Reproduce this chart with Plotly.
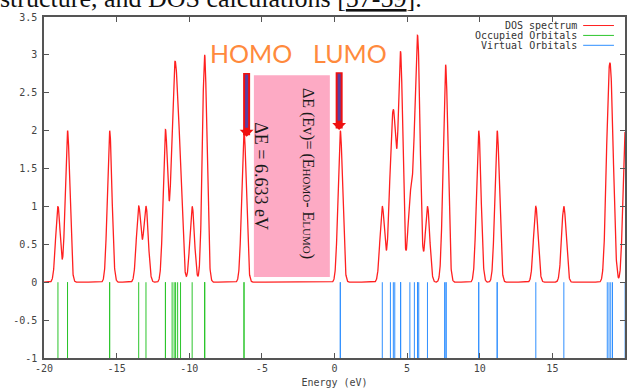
import numpy as np
import plotly.graph_objects as go

# ---------------- data ----------------
# orbital energies in eV; repeated values = degenerate orbitals
occupied_energies = [-19.04, -18.38, -18.38, -15.48, -15.48, -13.48, -12.98,
                     -11.64, -11.64, -11.18, -11.04, -10.94, -10.80, -10.60,
                     -9.80, -8.94, -8.94, -8.94, -6.23, -6.23]
virtual_energies = [0.40, 0.40, 3.29, 3.85, 4.05, 4.15, 4.55, 4.55, 4.55,
                    5.19, 5.50, 5.72, 5.72, 5.80, 6.40, 7.58, 7.68, 7.68,
                    9.93, 9.93, 11.20, 11.20, 13.86, 15.79,
                    18.78, 18.90, 19.02, 19.14, 20.02, 20.02]
fwhm = 0.37  # Gaussian broadening of the DOS spectrum (eV)

x_tickvals = [-20, -15, -10, -5, 0, 5, 10, 15, 20]
x_ticktext = ["-20", "-15", "-10", "-5", "0", "5", "10", "15", "20"]
y_tickvals = [-1, -0.5, 0, 0.5, 1, 1.5, 2, 2.5, 3, 3.5]
y_ticktext = ["-1", "-0.5", "0", "0.5", "1", "1.5", "2", "2.5", "3", "3.5"]

legend_labels = ["DOS spectrum", "Occupied Orbitals", "Virtual Orbitals"]
homo_label = "HOMO"
lumo_label = "LUMO"
gap_text = "ΔE = 6.633 eV"
formula_text = ("ΔE (Ev)= (E<span style='font-size:11px'>HOMO</span>- "
                "E<span style='font-size:11px'>LUMO</span>)")
caption_text = "structure, and DOS calculations [<u>57-59</u>]."

# ---------------- DOS spectrum from the orbitals ----------------
sigma = fwhm / 2.3548
energy_grid = np.linspace(-20, 20, 4001)
all_orbitals = np.array(occupied_energies + virtual_energies)
dos = np.exp(-(energy_grid[:, None] - all_orbitals[None, :]) ** 2 / (2 * sigma ** 2)).sum(axis=1)


def sticks(energies):
    xs, ys = [], []
    for e in energies:
        xs += [e, e, None]
        ys += [0, -1, None]
    return xs, ys


RED = "#ff2020"
GREEN = "#2cc52c"
BLUE = "#2f8fff"

fig = go.Figure()
fig.add_trace(go.Scatter(x=energy_grid, y=dos, mode="lines",
                         line=dict(color=RED, width=1.3), name=legend_labels[0],
                         showlegend=False))
ox, oy = sticks(occupied_energies)
fig.add_trace(go.Scatter(x=ox, y=oy, mode="lines", line=dict(color=GREEN, width=1),
                         name=legend_labels[1], showlegend=False))
vx, vy = sticks(virtual_energies)
fig.add_trace(go.Scatter(x=vx, y=vy, mode="lines", line=dict(color=BLUE, width=1),
                         name=legend_labels[2], showlegend=False))

MONO = "DejaVu Sans Mono"
AXIS_COLOR = "#555555"

fig.update_layout(
    width=627, height=388,
    margin=dict(l=44, r=2, t=17, b=30, autoexpand=False),
    paper_bgcolor="white", plot_bgcolor="white",
    showlegend=False,
    font=dict(family=MONO, size=10, color="#444444"),
)
fig.update_xaxes(range=[-20, 20], tickvals=x_tickvals, ticktext=x_ticktext,
                 ticks="inside", ticklen=5, tickcolor=AXIS_COLOR, tickwidth=1,
                 showline=True, linecolor=AXIS_COLOR, linewidth=1.5, mirror="ticks",
                 showgrid=False, zeroline=False, automargin=False,
                 tickfont=dict(family=MONO, size=10, color="#444444"),
                 title=dict(text="Energy (eV)", standoff=7,
                            font=dict(family=MONO, size=10, color="#444444")))
fig.update_yaxes(range=[-1, 3.5], tickvals=y_tickvals, ticktext=y_ticktext,
                 ticks="inside", ticklen=5, tickcolor=AXIS_COLOR, tickwidth=1,
                 showline=True, linecolor=AXIS_COLOR, linewidth=1.5, mirror="ticks",
                 showgrid=False, zeroline=False, ticklabelstandoff=3, automargin=False,
                 tickfont=dict(family=MONO, size=10, color="#444444"))

# pink box
fig.add_shape(type="rect", xref="x", yref="y", x0=-5.55, x1=-0.32, y0=0.07, y1=2.73,
              fillcolor="#fdaac4", line=dict(width=0), layer="above")

# legend (gnuplot style: text right-aligned, sample line to the right)
legend_colors = [RED, GREEN, BLUE]
legend_y = [0.975, 0.946, 0.917]
for lab, col, ly in zip(legend_labels, legend_colors, legend_y):
    fig.add_annotation(xref="paper", yref="paper", x=0.921, y=ly, text=lab,
                       showarrow=False, xanchor="right", yanchor="middle",
                       font=dict(family=MONO, size=10, color="#333333"))
    fig.add_shape(type="line", xref="paper", yref="paper", x0=0.928, x1=0.981,
                  y0=ly, y1=ly, line=dict(color=col, width=1))

ORANGE = "#ff8a3d"
fig.add_annotation(x=-5.72, y=3.02, text=homo_label, showarrow=False,
                   font=dict(family="Lato", size=25, color=ORANGE))
fig.add_annotation(x=1.06, y=3.02, text=lumo_label, showarrow=False,
                   font=dict(family="Lato", size=25, color=ORANGE))

# arrows
PURPLE = "#5b3fa0"
for ax_, tail, tip in [(-6.05, 2.78, 1.92), (0.32, 2.79, 2.01)]:
    fig.add_annotation(x=ax_, y=tip, ax=ax_, ay=tail, axref="x", ayref="y",
                       showarrow=True, arrowhead=1, arrowsize=0.33, arrowwidth=7,
                       arrowcolor="#ee1111", text="")
    fig.add_annotation(x=ax_, y=tip + 0.12, ax=ax_, ay=tail - 0.02, axref="x", ayref="y",
                       showarrow=True, arrowhead=0, arrowwidth=3,
                       arrowcolor=PURPLE, text="")

SERIF = "Liberation Serif"
fig.add_annotation(x=-1.83, y=1.43, text=formula_text, textangle=90, showarrow=False,
                   font=dict(family=SERIF, size=16, color="#1a1a1a"))
fig.add_annotation(x=-5.07, y=1.40, text=gap_text, textangle=90, showarrow=False,
                   font=dict(family=SERIF, size=18, color="#1a1a1a"))

# caption fragment from the page above the figure (cut off at the top)
fig.add_annotation(xref="paper", yref="paper", x=-0.079, y=1.006, text=caption_text,
                   showarrow=False, xanchor="left", yanchor="bottom",
                   font=dict(family=SERIF, size=26, color="#111111"))

fig.write_html("out.html")
